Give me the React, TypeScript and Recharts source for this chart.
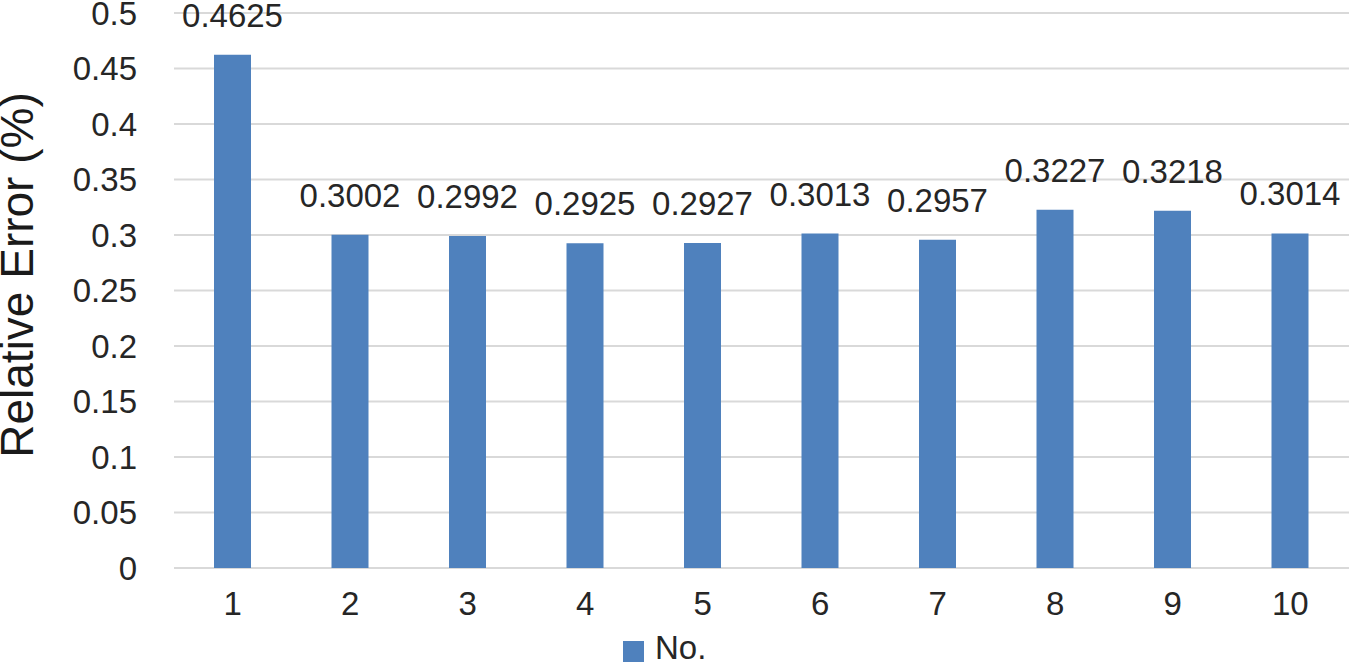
import { BarChart, Bar, XAxis, YAxis, CartesianGrid, LabelList, Legend } from 'recharts';

const categories = ['1', '2', '3', '4', '5', '6', '7', '8', '9', '10'];
const errors = [0.4625, 0.3002, 0.2992, 0.2925, 0.2927, 0.3013, 0.2957, 0.3227, 0.3218, 0.3014];
const yTicks = [0, 0.05, 0.1, 0.15, 0.2, 0.25, 0.3, 0.35, 0.4, 0.45, 0.5];

const BLUE = '#4f81bd';
const GRID = '#d9d9d9';
const TEXT = '#262626';
const FONT = '"Liberation Sans", Arial, sans-serif';

const chartData = categories.map((name, i) => ({ name, value: errors[i] }));

const YLabel = () => (
  <text
    x={33}
    y={275}
    transform="rotate(-90 33 275)"
    textAnchor="middle"
    fontFamily={FONT}
    fontSize={46}
    fill="#1a1a1a"
  >
    Relative Error (%)
  </text>
);

const renderLegend = () => (
  <div style={{ display: 'flex', alignItems: 'flex-start', fontFamily: FONT, fontSize: 33, color: TEXT }}>
    <span style={{ display: 'inline-block', width: 21, height: 21, background: BLUE, marginTop: 12, marginRight: 11 }} />
    <span>No.</span>
  </div>
);

export default function App() {
  return (
    <div style={{ position: 'absolute', left: 0, top: 0, width: 1350, height: 663, background: '#fff' }}>
      <BarChart width={1350} height={663} data={chartData} margin={{ top: 13, right: 1, left: 0, bottom: 0 }}>
        <CartesianGrid vertical={false} stroke={GRID} strokeWidth={2} />
        <XAxis
          dataKey="name"
          height={95}
          axisLine={false}
          tickLine={false}
          tickSize={0}
          tickMargin={24}
          interval={0}
          tick={{ fontFamily: FONT, fontSize: 33, fill: TEXT }}
        />
        <YAxis
          width={174}
          domain={[0, 0.5]}
          ticks={yTicks}
          interval={0}
          axisLine={false}
          tickLine={false}
          tickSize={0}
          tickMargin={37}
          tick={{ fontFamily: FONT, fontSize: 33, fill: TEXT }}
          label={<YLabel />}
        />
        <Legend
          layout="horizontal"
          verticalAlign="middle"
          content={renderLegend}
          wrapperStyle={{ left: 623, top: 629, width: 200 }}
        />
        <Bar dataKey="value" name="No." fill={BLUE} barSize={37} isAnimationActive={false}>
          <LabelList
            dataKey="value"
            position="top"
            offset={28}
            style={{ fontFamily: FONT, fontSize: 33, fill: TEXT }}
          />
        </Bar>
      </BarChart>
    </div>
  );
}
